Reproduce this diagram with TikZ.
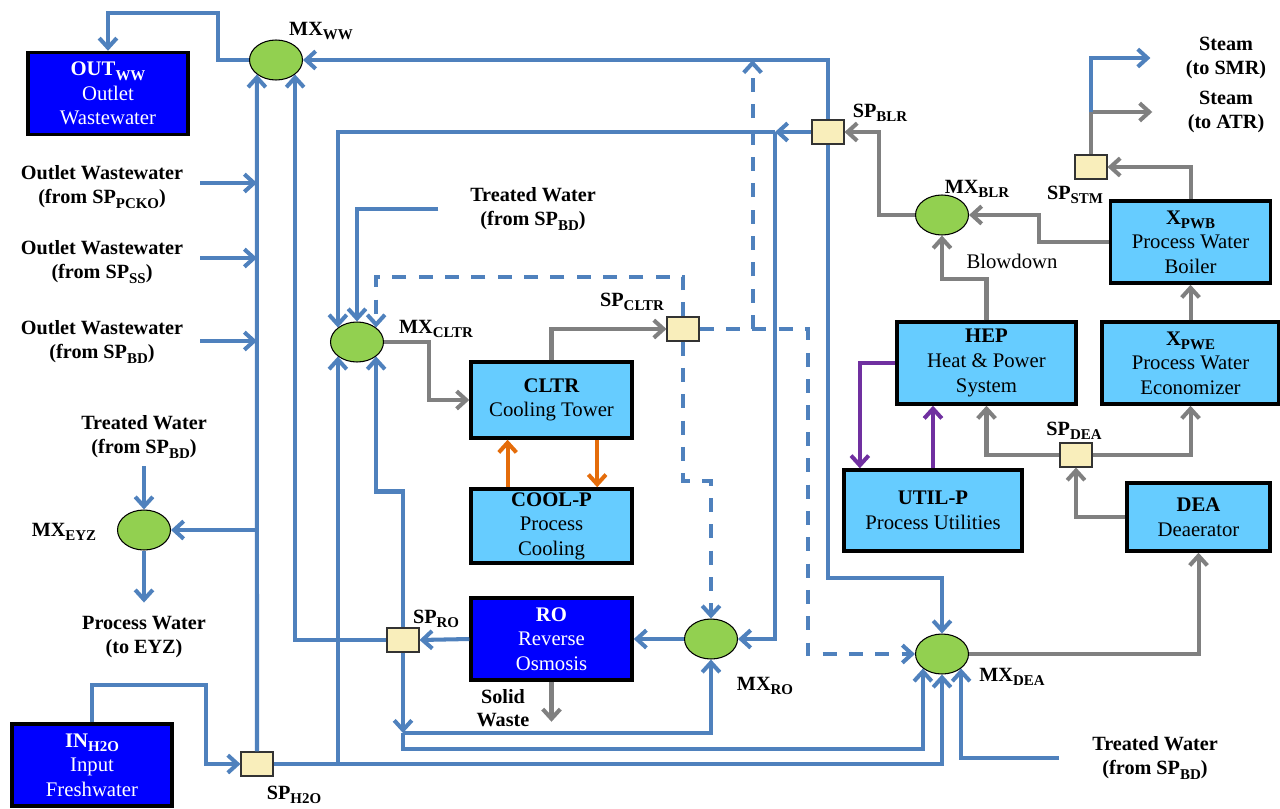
\documentclass[tikz,border=0pt]{standalone}
\usepackage{fontspec}
\setmainfont{Liberation Serif}
\usetikzlibrary{arrows.meta,shapes.geometric}
\definecolor{wblue}{HTML}{4F81BD}
\definecolor{lgray}{HTML}{808080}
\definecolor{heatorange}{HTML}{E46C0A}
\definecolor{pwrpurple}{HTML}{7030A0}
\definecolor{unitfill}{HTML}{66CCFF}
\definecolor{darkfill}{HTML}{0000FF}
\definecolor{mixfill}{HTML}{92D050}
\definecolor{splitfill}{HTML}{F9EEBB}
\newcommand{\subidx}[1]{\raisebox{-0.5ex}{\fontsize{8.5}{8.5}\selectfont #1}}
\tikzset{
  unit/.style={draw, line width=2pt, fill=unitfill, align=center, inner sep=0pt, minimum width=3.2cm, minimum height=1.64cm, font=\fontsize{11.8}{14}\selectfont},
  darkunit/.style={unit, fill=darkfill, text=white},
  mixer/.style={ellipse, draw, line width=0.6pt, fill=mixfill, minimum width=1.06cm, minimum height=0.8cm, inner sep=0pt},
  splitter/.style={draw=black!80, line width=0.6pt, fill=splitfill, minimum width=0.64cm, minimum height=0.48cm, inner sep=0pt},
  lbl/.style={font=\fontsize{11.5}{13.5}\selectfont\bfseries, align=center, inner sep=0pt},
  water/.style={draw=wblue, line width=2.3pt},
  wdash/.style={water, dash pattern=on 8pt off 7pt},
  utility/.style={draw=lgray, line width=2.3pt},
  cooling/.style={draw=heatorange, line width=2.3pt},
  power/.style={draw=pwrpurple, line width=2.3pt},
  flow/.style={-{Straight Barb[length=5.5pt,width=10pt]}}
}
\begin{document}
\begin{tikzpicture}[x=0.02cm, y=-0.02cm]
\useasboundingbox (0,0) rectangle (1280,808);

% process units
\node[darkunit] (outww) at (108,93.5) {\textbf{OUT\subidx{WW}}\\Outlet\\Wastewater};
\node[darkunit] (inh2o) at (92,765) {\textbf{IN\subidx{H2O}}\\Input\\Freshwater};
\node[unit, minimum width=3.22cm, minimum height=1.52cm] (cltr) at (551.5,400) {\textbf{CLTR}\\Cooling Tower};
\node[unit, minimum width=3.22cm, minimum height=1.48cm] (coolp) at (551.5,526) {\textbf{COOL-P}\\Process\\Cooling};
\node[darkunit, minimum width=3.22cm] (ro) at (551.5,639) {\textbf{RO}\\Reverse\\Osmosis};
\node[unit, minimum width=3.58cm] (hep) at (986.5,363) {\textbf{HEP}\\Heat \& Power\\System};
\node[unit, minimum width=3.54cm] (xpwe) at (1190.5,363) {\textbf{X\subidx{PWE}}\\Process Water\\Economizer};
\node[unit] (xpwb) at (1190.5,242) {\textbf{X\subidx{PWB}}\\Process Water\\Boiler};
\node[unit, minimum width=3.56cm, minimum height=1.62cm] (utilp) at (933,510.5) {\textbf{UTIL-P}\\Process Utilities};
\node[unit, minimum width=2.86cm, minimum height=1.36cm] (dea) at (1198.5,517) {\textbf{DEA}\\Deaerator};

% mixers
\node[mixer] (mxww) at (276,60) {};
\node[mixer] (mxcltr) at (357,342) {};
\node[mixer] (mxeyz) at (144,530) {};
\node[mixer] (mxro) at (711,639) {};
\node[mixer] (mxdea) at (942,654) {};
\node[mixer] (mxblr) at (942,215) {};

% splitters
\node[splitter] (sph2o) at (257,764) {};
\node[splitter] (spro) at (403,640) {};
\node[splitter] (spcltr) at (683,329) {};
\node[splitter] (spblr) at (828,132) {};
\node[splitter] (spstm) at (1091,167) {};
\node[splitter] (spdea) at (1076,455) {};

% labels
\node[lbl] (mxwwl) at (321,31) {MX\subidx{WW}};
\node[lbl] (mxcltrl) at (436,329) {MX\subidx{CLTR}};
\node[lbl] (mxeyzl) at (64,532) {MX\subidx{EYZ}};
\node[lbl] (mxrol) at (765,686) {MX\subidx{RO}};
\node[lbl] (mxdeal) at (1012,677) {MX\subidx{DEA}};
\node[lbl] (mxblrl) at (977,189) {MX\subidx{BLR}};
\node[lbl] (sph2ol) at (294,795) {SP\subidx{H2O}};
\node[lbl] (sprol) at (436,619) {SP\subidx{RO}};
\node[lbl] (spcltrl) at (632,302) {SP\subidx{CLTR}};
\node[lbl] (spblrl) at (880,113) {SP\subidx{BLR}};
\node[lbl] (spstml) at (1075,195) {SP\subidx{STM}};
\node[lbl] (spdeal) at (1074,431) {SP\subidx{DEA}};
\node[lbl] (ow1) at (102,187) {Outlet Wastewater\\(from SP\subidx{PCKO})};
\node[lbl] (ow2) at (102,262) {Outlet Wastewater\\(from SP\subidx{SS})};
\node[lbl] (ow3) at (102,342) {Outlet Wastewater\\(from SP\subidx{BD})};
\node[lbl] (tweyz) at (144,437) {Treated Water\\(from SP\subidx{BD})};
\node[lbl] (pweyz) at (144,637) {Process Water\\(to EYZ)};
\node[lbl] (twcltr) at (533,209) {Treated Water\\(from SP\subidx{BD})};
\node[lbl] (twdea) at (1155,758) {Treated Water\\(from SP\subidx{BD})};
\node[lbl] (steamsmr) at (1226,58) {Steam\\(to SMR)};
\node[lbl] (steamatr) at (1226,112) {Steam\\(to ATR)};
\node[lbl] (solid) at (503,708) {Solid\\Waste};
\node[lbl, font=\fontsize{11.8}{13.5}\selectfont] (blowdown) at (1012,261) {Blowdown};

% water network
\coordinate (ow1in) at (200,183);
\coordinate (ow2in) at (200,258);
\coordinate (ow3in) at (200,341);
\coordinate (blrj) at (775,132);
\coordinate (robr) at (403,733);
\draw[water,flow] (mxww.west) -| (218,13) -| (outww.north);
\draw[water,flow] (sph2o.north) -- (mxww.south west);
\draw[water,flow] (ow1in) -- (ow1in -| sph2o.north);
\draw[water,flow] (ow2in) -- (ow2in -| sph2o.north);
\draw[water,flow] (ow3in) -- (ow3in -| sph2o.north);
\draw[water,flow] (mxeyz.east -| sph2o.north) -- (mxeyz.east);
\draw[water,flow] (mxeyz.north) ++(0,-43) -- (mxeyz.north);
\draw[water,flow] (mxeyz.south) -- ++(0,52);
\draw[water,flow] (inh2o.north) |- (206,685) |- (sph2o.west);
\draw[water,flow] (sph2o.east) -| (mxdea.south);
\draw[water,flow] (sph2o.east -| mxcltr.south west) -- (mxcltr.south west);
\draw[water,flow] (spro.west) -| (mxww.south east);
\draw[water,flow] (spro.north) -- ++(0,-136) -| (mxcltr.south east);
\draw[water,flow] (spro.south) -- (robr);
\draw[water,flow] (robr) -| (mxro.south);
\draw[water,flow] (robr) -- ++(0,16) -| (mxdea.south west);
\draw[water,flow] (mxro.west) -- (ro.east);
\draw[water,flow] (ro.west) -- (spro.east);
\draw[water,flow] (spblr.north) |- (mxww.east);
\draw[water,flow] (spblr.south) |- (mxdea.north |- 0,578) -- (mxdea.north);
\draw[water,flow] (spblr.west) -- (blrj);
\draw[water,flow] (blrj) |- (mxro.east);
\draw[water,flow] (blrj) -| (mxcltr.north west);
\draw[water,flow] ([xshift=-18pt]twcltr.west) -| (mxcltr.north);
\draw[water,flow] ([xshift=-19pt]twdea.west) -| (mxdea.south east);

% cooling tower recycle (dashed)
\draw[wdash,flow] (spcltr.north) |- (mxcltr.north east |- 0,277) -- (mxcltr.north east);
\draw[wdash,flow] (spcltr.south) -- ++(0,139) -| (mxro.north);
\draw[wdash,flow] (spcltr.east) -- ++(108,0) |- (mxdea.west);
\draw[wdash,flow] (spcltr.east) ++(53,0) coordinate (cltrup) -- (cltrup |- mxww.east);

% process side
\draw[utility,flow] (mxcltr.east) -- ++(45,0) |- (cltr.west);
\draw[utility,flow] (cltr.north) |- (spcltr.west);
\draw[utility,flow] (ro.south) -- ++(0,40);
\draw[utility,flow] (mxdea.east) -| (dea.south);
\draw[utility,flow] (dea.west) -| (spdea.south);
\draw[utility,flow] (spdea.west) -| (hep.south);
\draw[utility,flow] (spdea.east) -| (xpwe.south);
\draw[utility,flow] (xpwe.north) -- (xpwb.south);
\draw[utility,flow] (xpwb.north) |- (spstm.east);
\draw[utility,flow] (xpwb.west) -- ++(-70,0) |- (mxblr.east);
\draw[utility,flow] (hep.north) -- ++(0,-41) -| (mxblr.south);
\draw[utility,flow] (mxblr.west) -- ++(-36,0) |- (spblr.east);
\draw[utility,flow] (spstm.north) |- ([xshift=-20pt]steamatr.west);
\draw[water,flow] (spstm.north |- steamatr.west) |- ([xshift=-20pt]steamsmr.west);

% heat and power
\draw[cooling,flow] ([xshift=-25pt]coolp.north) -- ([xshift=-25pt]cltr.south);
\draw[cooling,flow] ([xshift=26pt]cltr.south) -- ([xshift=26pt]coolp.north);
\draw[power,flow] (hep.west) -| ([xshift=10pt]utilp.north west);
\draw[power,flow] (utilp.north) -- (utilp.north |- hep.south);
\end{tikzpicture}
\end{document}
